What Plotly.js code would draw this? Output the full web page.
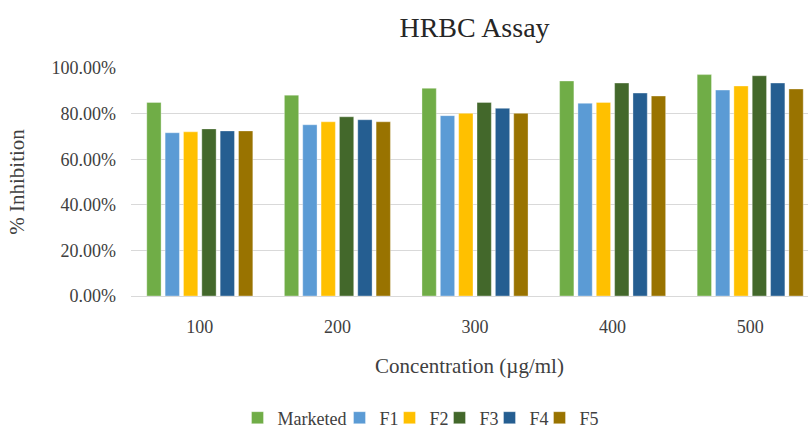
<!DOCTYPE html>
<html>
<head>
<meta charset="utf-8">
<script src="https://cdn.plot.ly/plotly-3.0.1.min.js"></script>
<style>html,body{margin:0;padding:0;background:#fff;overflow:hidden}#chart{width:808px;height:429px}</style>
</head>
<body>
<div id="chart"></div>
<script>
const categories = ["100", "200", "300", "400", "500"];
const seriesNames = ["Marketed", "F1", "F2", "F3", "F4", "F5"];
const marketed = [0.849, 0.881, 0.911, 0.943, 0.971];
const f1 = [0.716, 0.751, 0.791, 0.845, 0.903];
const f2 = [0.720, 0.764, 0.801, 0.849, 0.921];
const f3 = [0.733, 0.786, 0.849, 0.934, 0.966];
const f4 = [0.724, 0.773, 0.823, 0.890, 0.934];
const f5 = [0.724, 0.764, 0.801, 0.877, 0.908];
const seriesValues = [marketed, f1, f2, f3, f4, f5];
const colors = ["#70AD47", "#5B9BD5", "#FFC000", "#43682B", "#255E91", "#997300"];
const legendWidths = [57, 5, 5, 5, 5, 22];

const FONT = 'Liberation Serif, Times New Roman, serif';

const traces = seriesNames.map((name, i) => ({
  type: 'bar',
  name: name,
  x: categories,
  y: seriesValues[i],
  legendwidth: legendWidths[i],
  marker: { color: colors[i], line: { color: 'rgba(255,255,255,0.45)', width: 0.75 } },
  hoverinfo: 'x+y+name'
}));

const layout = {
  width: 808,
  height: 429,
  paper_bgcolor: '#ffffff',
  plot_bgcolor: '#ffffff',
  font: { family: FONT, color: '#404040', size: 18 },
  margin: { l: 131, r: 0, t: 68, b: 133, pad: 0, autoexpand: false },
  barmode: 'group',
  bargap: 0.2,
  bargroupgap: 0.22,
  title: {
    text: 'HRBC Assay',
    font: { family: FONT, size: 28, color: '#262626' },
    x: 410 / 808, xanchor: 'center', xref: 'paper',
    y: 1 - 27 / 429, yanchor: 'middle', yref: 'container'
  },
  xaxis: {
    type: 'category',
    range: [-0.5, 4.42],
    showgrid: false,
    showline: true,
    linecolor: '#d9d9d9',
    linewidth: 1,
    ticks: '',
    ticklabelstandoff: 14,
    tickfont: { family: FONT, size: 18, color: '#404040' },
    automargin: false,
    title: { text: 'Concentration (µg/ml)', font: { family: FONT, size: 21, color: '#404040' }, standoff: 22 }
  },
  yaxis: {
    range: [0, 1],
    dtick: 0.2,
    tickformat: '.2%',
    showgrid: true,
    gridcolor: '#d9d9d9',
    gridwidth: 1,
    zeroline: false,
    showline: false,
    ticks: '',
    ticklabelstandoff: 14,
    tickfont: { family: FONT, size: 18, color: '#404040' },
    automargin: false,
    title: { text: '% Inhibition', font: { family: FONT, size: 21, color: '#404040' }, standoff: 21 }
  },
  legend: {
    orientation: 'h',
    x: (422 - 131) / 677, xanchor: 'center',
    y: (296 - 418) / 228, yanchor: 'middle',
    font: { family: FONT, size: 18, color: '#404040' },
    itemwidth: 30,
    traceorder: 'normal'
  },
  showlegend: true
};

Plotly.newPlot('chart', traces, layout, { displayModeBar: false, responsive: false });
</script>
</body>
</html>
